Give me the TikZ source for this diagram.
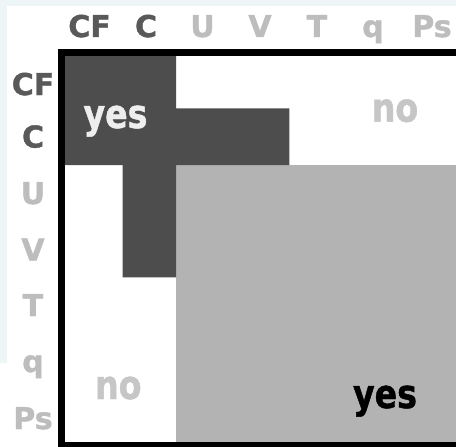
\documentclass[tikz,border=0pt]{standalone}
\usepackage{fontspec}
\setmainfont{DejaVu Sans}
\newfontfamily\heavyfont{DejaVu Sans}[FakeBold=1.2]
\usepackage{graphicx}
\definecolor{bgblue}{HTML}{EDF5F7}
\definecolor{darkfill}{HTML}{4D4D4D}
\definecolor{lightfill}{HTML}{B3B3B3}
\definecolor{labdark}{HTML}{595959}
\definecolor{lablight}{HTML}{BDBDBD}
\definecolor{nocol}{HTML}{C6C6C6}
\definecolor{yestop}{HTML}{EEEEEE}
\newcommand\labfont{\fontsize{30}{36}\selectfont\bfseries\heavyfont}
\newcommand\ynfont{\fontsize{40}{48}\selectfont\bfseries\heavyfont}
\newcommand\yn[1]{\scalebox{0.83}[1]{#1}}
\begin{document}
\begin{tikzpicture}[x=1pt,y=-1pt,
  lab/.style={font=\labfont, inner sep=0pt, anchor=base},
  labd/.style={lab, text=labdark},
  labl/.style={lab, text=lablight},
  yntext/.style={font=\ynfont, inner sep=0pt, anchor=base}]
\useasboundingbox (0,0) rectangle (456,447);
\clip (0,0) rectangle (456,447);
% background
\fill[bgblue] (0,0) rectangle (456,447);
\fill[white] (7,6) rectangle (456,447);
\fill[white] (0,363) rectangle (7,447);
% regions
\fill[lightfill] (175.5,164.5) rectangle (470,441.7);
\fill[darkfill] (65,55.5) -- (176,55.5) -- (176,108.3) -- (289.3,108.3)
  -- (289.3,165) -- (176,165) -- (176,277.3) -- (122.7,277.3)
  -- (122.7,165) -- (65,165) -- cycle;
% frame
\draw[line width=6.5pt, black] (61.7,52.4) rectangle (470,445);
% column labels
\node[labd] (cCF) at (89.5,37) {CF};
\node[labd] (cC)  at (146,37) {C};
\node[labl] (cU)  at (202.5,37) {U};
\node[labl] (cV)  at (260,37) {V};
\node[labl] (cT)  at (317,37) {T};
\node[labl] (cq)  at (373,37) {q};
\node[labl] (cPs) at (432,37) {Ps};
% row labels
\node[labd] (rCF) at (33,95) {CF};
\node[labd] (rC)  at (33,147.5) {C};
\node[labl] (rU)  at (33,204) {U};
\node[labl] (rV)  at (33,260.5) {V};
\node[labl] (rT)  at (33,316) {T};
\node[labl] (rq)  at (33,372) {q};
\node[labl] (rPs) at (33,429) {Ps};
% yes / no
\node[yntext, text=yestop] (yes1) at (115.5,128) {\yn{yes}};
\node[yntext, text=nocol] (no1) at (395,121.7) {\yn{no}};
\node[yntext, text=nocol] (no2) at (118.3,399) {\yn{no}};
\node[yntext, text=black] (yes2) at (385,408) {\yn{yes}};
\end{tikzpicture}
\end{document}
